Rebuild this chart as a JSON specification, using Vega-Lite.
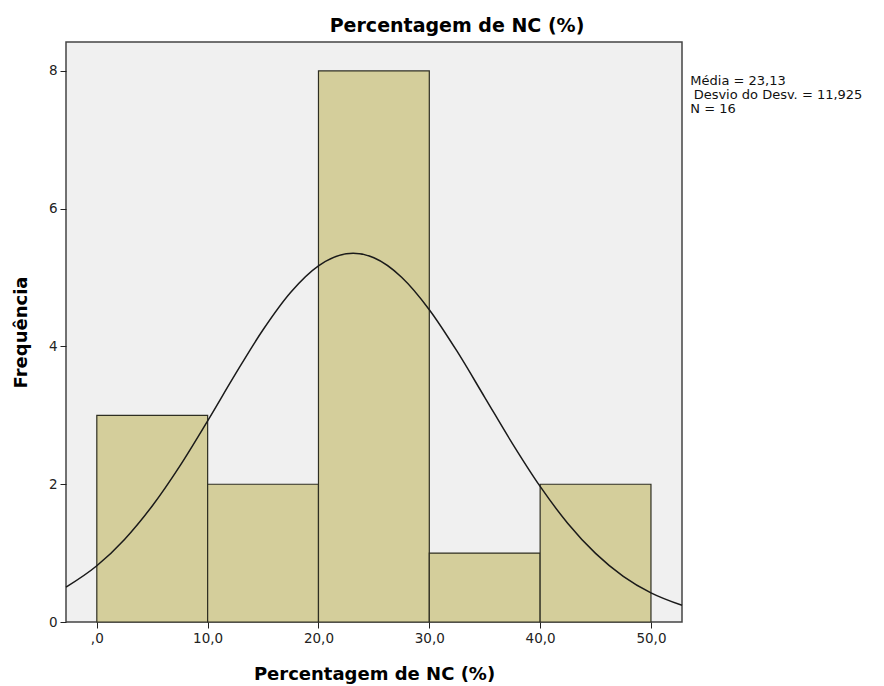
{
  "$schema": "https://vega.github.io/schema/vega-lite/v6.json",
  "width": 616,
  "height": 580,
  "autosize": {"type": "none"},
  "padding": {"left": 66, "top": 42, "right": 202, "bottom": 64},
  "background": "white",
  "config": {
    "font": "DejaVu Sans",
    "view": {"fill": "#F0F0F0", "stroke": "#444444", "strokeWidth": 1.5},
    "axis": {"grid": false, "domain": false, "tickColor": "#222222", "tickSize": 6, "labelColor": "#222222", "labelFontSize": 13.5, "labelFont": "DejaVu Sans", "titleFont": "DejaVu Sans", "titleFontSize": 18, "titleFontWeight": "bold", "titleColor": "#000000"}
  },
  "title": {"text": "Percentagem de NC (%)", "fontSize": 19, "fontWeight": "bold", "font": "DejaVu Sans", "color": "#000000", "anchor": "middle", "dx": 83, "offset": 6},
  "datasets": {
    "bins": [
      {"start": 0, "end": 10, "count": 3},
      {"start": 10, "end": 20, "count": 2},
      {"start": 20, "end": 30, "count": 8},
      {"start": 30, "end": 40, "count": 1},
      {"start": 40, "end": 50, "count": 2}
    ],
    "curve": [
      {"x": -2.78, "y": 0.505}, {"x": 0, "y": 0.816}, {"x": 2.5, "y": 1.199}, {"x": 5, "y": 1.685},
      {"x": 7.5, "y": 2.267}, {"x": 10, "y": 2.92}, {"x": 12.5, "y": 3.598}, {"x": 15, "y": 4.243},
      {"x": 17.5, "y": 4.788}, {"x": 20, "y": 5.171}, {"x": 22.5, "y": 5.345}, {"x": 23.13, "y": 5.353},
      {"x": 25, "y": 5.287}, {"x": 27.5, "y": 5.005}, {"x": 30, "y": 4.534}, {"x": 32.5, "y": 3.931},
      {"x": 35, "y": 3.262}, {"x": 37.5, "y": 2.59}, {"x": 40, "y": 1.968}, {"x": 42.5, "y": 1.431},
      {"x": 45, "y": 0.996}, {"x": 47.5, "y": 0.663}, {"x": 50, "y": 0.423}, {"x": 52.8, "y": 0.242}
    ],
    "note": [
      {"x": 53.55, "y": 7.80, "label": "Média = 23,13"},
      {"x": 53.85, "y": 7.595, "label": "Desvio do Desv. = 11,925"},
      {"x": 53.55, "y": 7.39, "label": "N = 16"}
    ]
  },
  "layer": [
    {
      "data": {"name": "bins"},
      "mark": {"type": "rect", "fill": "#D4CE9B", "stroke": "#2E2E22", "strokeWidth": 1.2},
      "encoding": {
        "x": {"field": "start", "type": "quantitative", "scale": {"domain": [-2.78, 52.8], "nice": false, "zero": false},
          "axis": {"values": [0, 10, 20, 30, 40, 50], "title": "Percentagem de NC (%)", "labelExpr": "datum.value == 0 ? ',0' : replace(format(datum.value, '.1f'), '.', ',')", "labelAlign": "center", "labelFlush": false, "labelPadding": 3, "titlePadding": 21}},
        "x2": {"field": "end"},
        "y": {"field": "count", "type": "quantitative", "scale": {"domain": [0, 8.42], "nice": false},
          "axis": {"values": [0, 2, 4, 6, 8], "format": "d", "title": "Frequência", "labelPadding": 3, "titlePadding": 18}},
        "y2": {"datum": 0}
      }
    },
    {
      "data": {"name": "curve"},
      "mark": {"type": "line", "color": "#1a1a1a", "strokeWidth": 1.5, "interpolate": "monotone"},
      "encoding": {
        "x": {"field": "x", "type": "quantitative"},
        "y": {"field": "y", "type": "quantitative"}
      }
    },
    {
      "data": {"name": "note"},
      "mark": {"type": "text", "align": "left", "baseline": "alphabetic", "fontSize": 13, "color": "#111111", "font": "DejaVu Sans", "clip": false},
      "encoding": {
        "x": {"field": "x", "type": "quantitative"},
        "y": {"field": "y", "type": "quantitative"},
        "text": {"field": "label"}
      }
    }
  ]
}
